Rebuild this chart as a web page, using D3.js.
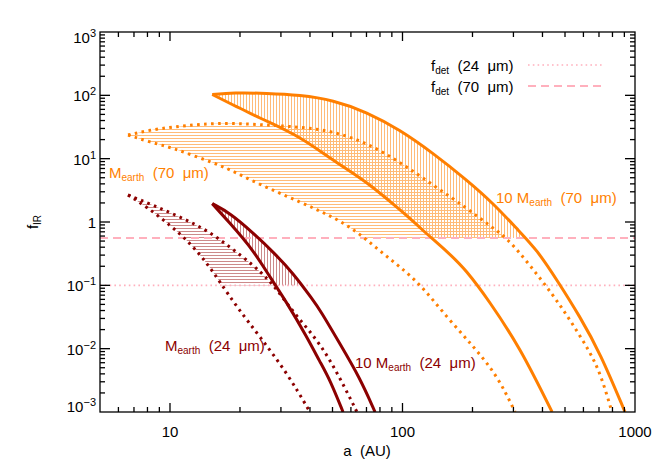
<!DOCTYPE html>
<html><head><meta charset="utf-8">
<script src="https://cdn.jsdelivr.net/npm/d3@7"></script>
<style>
body{margin:0;background:#fff}
svg{display:block}
text{font-family:"Liberation Sans",Arial,sans-serif;white-space:pre}
</style>
</head><body>
<svg id="chart" width="664" height="475"></svg>
<script>
// ---- data: [a (AU), f_IR] ----
const earth24Upper = [[6.6,2.67],[8.45,1.85],[11.05,1.20],[14.4,0.748],[18.1,0.403],[22.8,0.209],[26.1,0.130],[28.9,0.0844],[35.2,0.0316],[44.2,0.0123],[53.9,0.00344],[63.7,0.001]];
const earth24Lower = [[6.6,2.67],[7.96,1.72],[10.0,0.895],[12.2,0.466],[14.4,0.225],[16.4,0.113],[19.4,0.0455],[24.4,0.0153],[31.9,0.00413],[40.0,0.001]];
const m10e24Upper = [[15.2,1.95],[18.1,1.39],[22.8,0.670],[27.8,0.336],[33.8,0.157],[41.2,0.0586],[44.2,0.0407],[53.9,0.0118],[65.6,0.00344],[76.2,0.001]];
const m10e24Lower = [[15.2,1.95],[18.1,0.96],[22.8,0.361],[26.9,0.135],[31.9,0.0526],[38.8,0.0153],[44.2,0.00615],[48.8,0.0032],[55.5,0.001]];
const earth70Upper = [[6.6,23.6],[8.2,28.4],[10.3,31.6],[13.5,35.2],[18.7,36.5],[26.1,34.0],[36.2,31.6],[50.3,27.3],[70.3,17.7],[97.6,8.85],[135,3.84],[189,1.66],[238,0.865],[282,0.56],[353,0.209],[444,0.0703],[526,0.0283],[641,0.00885],[714,0.00384],[796,0.001]];
const earth70Lower = [[6.6,23.6],[8.2,18.3],[10.3,14.7],[13.5,10.2],[17.6,7.13],[22.1,4.61],[28.9,2.98],[36.2,2.07],[44.2,1.49],[53.9,1.04],[65.6,0.646],[80.0,0.348],[97.6,0.195],[119,0.105],[155,0.0316],[201,0.011],[255,0.00384],[305,0.001]];
const m10e70Upper = [[15.2,103],[18.7,110],[26.1,108],[36.2,101],[50.3,84.3],[70.3,54.5],[97.6,28.4],[135,12.3],[189,4.61],[245,1.99],[314,0.748],[379,0.361],[462,0.121],[581,0.0316],[708,0.00854],[906,0.001]];
const m10e70Lower = [[15.2,103],[18.7,70.3],[24.4,43.9],[31.9,27.3],[36.2,21.2],[50.3,9.52],[70.3,4.13],[97.6,1.55],[122,0.748],[189,0.162],[238,0.0526],[320,0.00953],[440,0.001]];
const fDet24 = 0.1;
const fDet70 = 0.56;
const xTickValues = [10, 100, 1000];
const xTickLabels = ["10", "100", "1000"];
const yTickValues = [1e-3, 1e-2, 1e-1, 1, 1e1, 1e2, 1e3];
const yTickBase = ["10", "10", "10", "1", "10", "10", "10"];
const yTickExp = ["\u22123", "\u22122", "\u22121", "", "1", "2", "3"];

// ---- layout ----
const L = 100, R = 635, T = 32, B = 412;
const MAROON = "#8c0000", ORANGE = "#ff7f00", PINK = "#ffb0bd";
const svg = d3.select("#chart");
const x = d3.scaleLog().domain([5, 1000]).range([L, R]);
const y = d3.scaleLog().domain([1e-3, 1e3]).range([B, T]);
const smoothGen = d3.line().x(d => x(d[0])).y(d => y(d[1])).curve(d3.curveBasis);
const kinkGen = d3.line().x(d => x(d[0])).y(d => y(d[1])).curve(d3.curveMonotoneX);

const defs = svg.append("defs");
defs.append("clipPath").attr("id", "plotclip").append("rect")
  .attr("x", L).attr("y", T).attr("width", R - L).attr("height", B - T);

function pattern(id, color, horizontal) {
  const p = defs.append("pattern").attr("id", id).attr("patternUnits", "userSpaceOnUse")
    .attr("width", 3).attr("height", 3);
  if (horizontal) p.append("rect").attr("x", 0).attr("y", 0).attr("width", 3).attr("height", 1).attr("fill", color);
  else p.append("rect").attr("x", 0).attr("y", 0).attr("width", 1).attr("height", 3).attr("fill", color);
}
pattern("hMaroon", "#cc8a8a", true);
pattern("vMaroon", "#cc8a8a", false);
pattern("hOrange", "#ffbb78", true);
pattern("vOrange", "#ffbb78", false);

function regionPath(upper, lower, genU, genL) {
  return genU(upper) + "L" + genL([...lower].reverse()).slice(1) + "Z";
}
function hatch(id, upper, lower, fdet, pat, genL) {
  defs.append("clipPath").attr("id", id).append("path")
    .attr("d", regionPath(upper, lower, smoothGen, genL || smoothGen));
  svg.append("g").attr("clip-path", `url(#${id})`).append("rect")
    .attr("x", L).attr("y", T).attr("width", R - L).attr("height", y(fdet) - T)
    .attr("fill", `url(#${pat})`);
}
hatch("r1", earth24Upper, earth24Lower, fDet24, "hMaroon");
hatch("r2", m10e24Upper, m10e24Lower, fDet24, "vMaroon");
hatch("r3", earth70Upper, earth70Lower, fDet70, "hOrange");
hatch("r4", m10e70Upper, m10e70Lower, fDet70, "vOrange", kinkGen);

// detection thresholds
svg.append("line").attr("x1", L).attr("x2", R).attr("y1", y(fDet24)).attr("y2", y(fDet24))
  .attr("stroke", PINK).attr("stroke-width", 1.6).attr("stroke-dasharray", "1.6,3.2");
svg.append("line").attr("x1", L).attr("x2", R).attr("y1", y(fDet70)).attr("y2", y(fDet70))
  .attr("stroke", PINK).attr("stroke-width", 2).attr("stroke-dasharray", "8,5");

// curves
const curves = svg.append("g").attr("clip-path", "url(#plotclip)");
function curve(data, color, dotted, gen) {
  curves.append("path").attr("d", (gen || smoothGen)(data)).attr("fill", "none")
    .attr("stroke", color).attr("stroke-width", 3)
    .attr("stroke-dasharray", dotted ? "2.6,4.4" : null)
    .attr("stroke-linejoin", "round");
}
curve(earth24Upper, MAROON, true);
curve(earth24Lower, MAROON, true);
curve(m10e24Upper, MAROON, false);
curve(m10e24Lower, MAROON, false);
curve(earth70Upper, ORANGE, true);
curve(earth70Lower, ORANGE, true);
curve(m10e70Upper, ORANGE, false);
curve(m10e70Lower, ORANGE, false, kinkGen);

// text helper
function label(xp, yp, parts, color, anchor) {
  const t = svg.append("text").attr("x", xp).attr("y", yp).attr("fill", color || "#000")
    .attr("font-size", 15).attr("text-anchor", anchor || "start");
  parts.forEach(p => {
    const s = t.append("tspan").text(p.t);
    if (p.sub) s.attr("font-size", 10).attr("dy", 3);
    else if (p.back) s.attr("dy", -3);
  });
  return t;
}
label(109, 178, [{t: "M"}, {t: "earth", sub: true}, {t: "  (70  \u03bcm)", back: true}], ORANGE);
label(496, 203, [{t: "10 M"}, {t: "earth", sub: true}, {t: "  (70  \u03bcm)", back: true}], ORANGE);
label(165, 351, [{t: "M"}, {t: "earth", sub: true}, {t: "  (24  \u03bcm)", back: true}], MAROON);
label(355, 368, [{t: "10 M"}, {t: "earth", sub: true}, {t: "  (24  \u03bcm)", back: true}], MAROON);

// legend
label(431, 71, [{t: "f"}, {t: "det", sub: true}, {t: "  (24  \u03bcm)", back: true}]);
label(431, 92, [{t: "f"}, {t: "det", sub: true}, {t: "  (70  \u03bcm)", back: true}]);
svg.append("line").attr("x1", 528).attr("x2", 603).attr("y1", 65).attr("y2", 65)
  .attr("stroke", PINK).attr("stroke-width", 1.6).attr("stroke-dasharray", "1.6,3.2");
svg.append("line").attr("x1", 528).attr("x2", 603).attr("y1", 86).attr("y2", 86)
  .attr("stroke", PINK).attr("stroke-width", 2).attr("stroke-dasharray", "8,5");

// axes frame and ticks
const ax = svg.append("g").attr("stroke", "#000").attr("stroke-width", 1.3);
ax.append("rect").attr("x", L).attr("y", T).attr("width", R - L).attr("height", B - T).attr("fill", "none");
const isMajor = v => Math.abs(Math.log10(v) - Math.round(Math.log10(v))) < 1e-6;
x.ticks().filter(v => v > 5 && v < 1000).forEach(v => {
  const len = isMajor(v) ? 9 : 5, px = x(v);
  ax.append("line").attr("x1", px).attr("x2", px).attr("y1", B).attr("y2", B - len);
  ax.append("line").attr("x1", px).attr("x2", px).attr("y1", T).attr("y2", T + len);
});
y.ticks().filter(v => v > 1e-3 && v < 1e3).forEach(v => {
  const len = isMajor(v) ? 10 : 5, py = y(v);
  ax.append("line").attr("x1", L).attr("x2", L + len).attr("y1", py).attr("y2", py);
  ax.append("line").attr("x1", R).attr("x2", R - len).attr("y1", py).attr("y2", py);
});

// tick labels
xTickValues.forEach((v, i) => {
  svg.append("text").attr("x", x(v)).attr("y", 437).attr("text-anchor", "middle")
    .attr("font-size", 15).text(xTickLabels[i]);
});
yTickValues.forEach((v, i) => {
  const off = i === yTickValues.length - 1 ? 11 : (i === 0 ? 0 : 6);
  const t = svg.append("text").attr("x", 96).attr("y", y(v) + off).attr("text-anchor", "end").attr("font-size", 15);
  t.append("tspan").text(yTickBase[i]);
  if (yTickExp[i]) t.append("tspan").attr("dy", -6).attr("font-size", 11).text(yTickExp[i]);
});

// axis titles
label(367, 456, [{t: "a  (AU)"}], "#000", "middle");
const yt = svg.append("text").attr("transform", "translate(38,222) rotate(-90)")
  .attr("text-anchor", "middle").attr("font-size", 15);
yt.append("tspan").text("f");
yt.append("tspan").attr("font-size", 10).attr("dy", 3).text("IR");
</script>
</body></html>
